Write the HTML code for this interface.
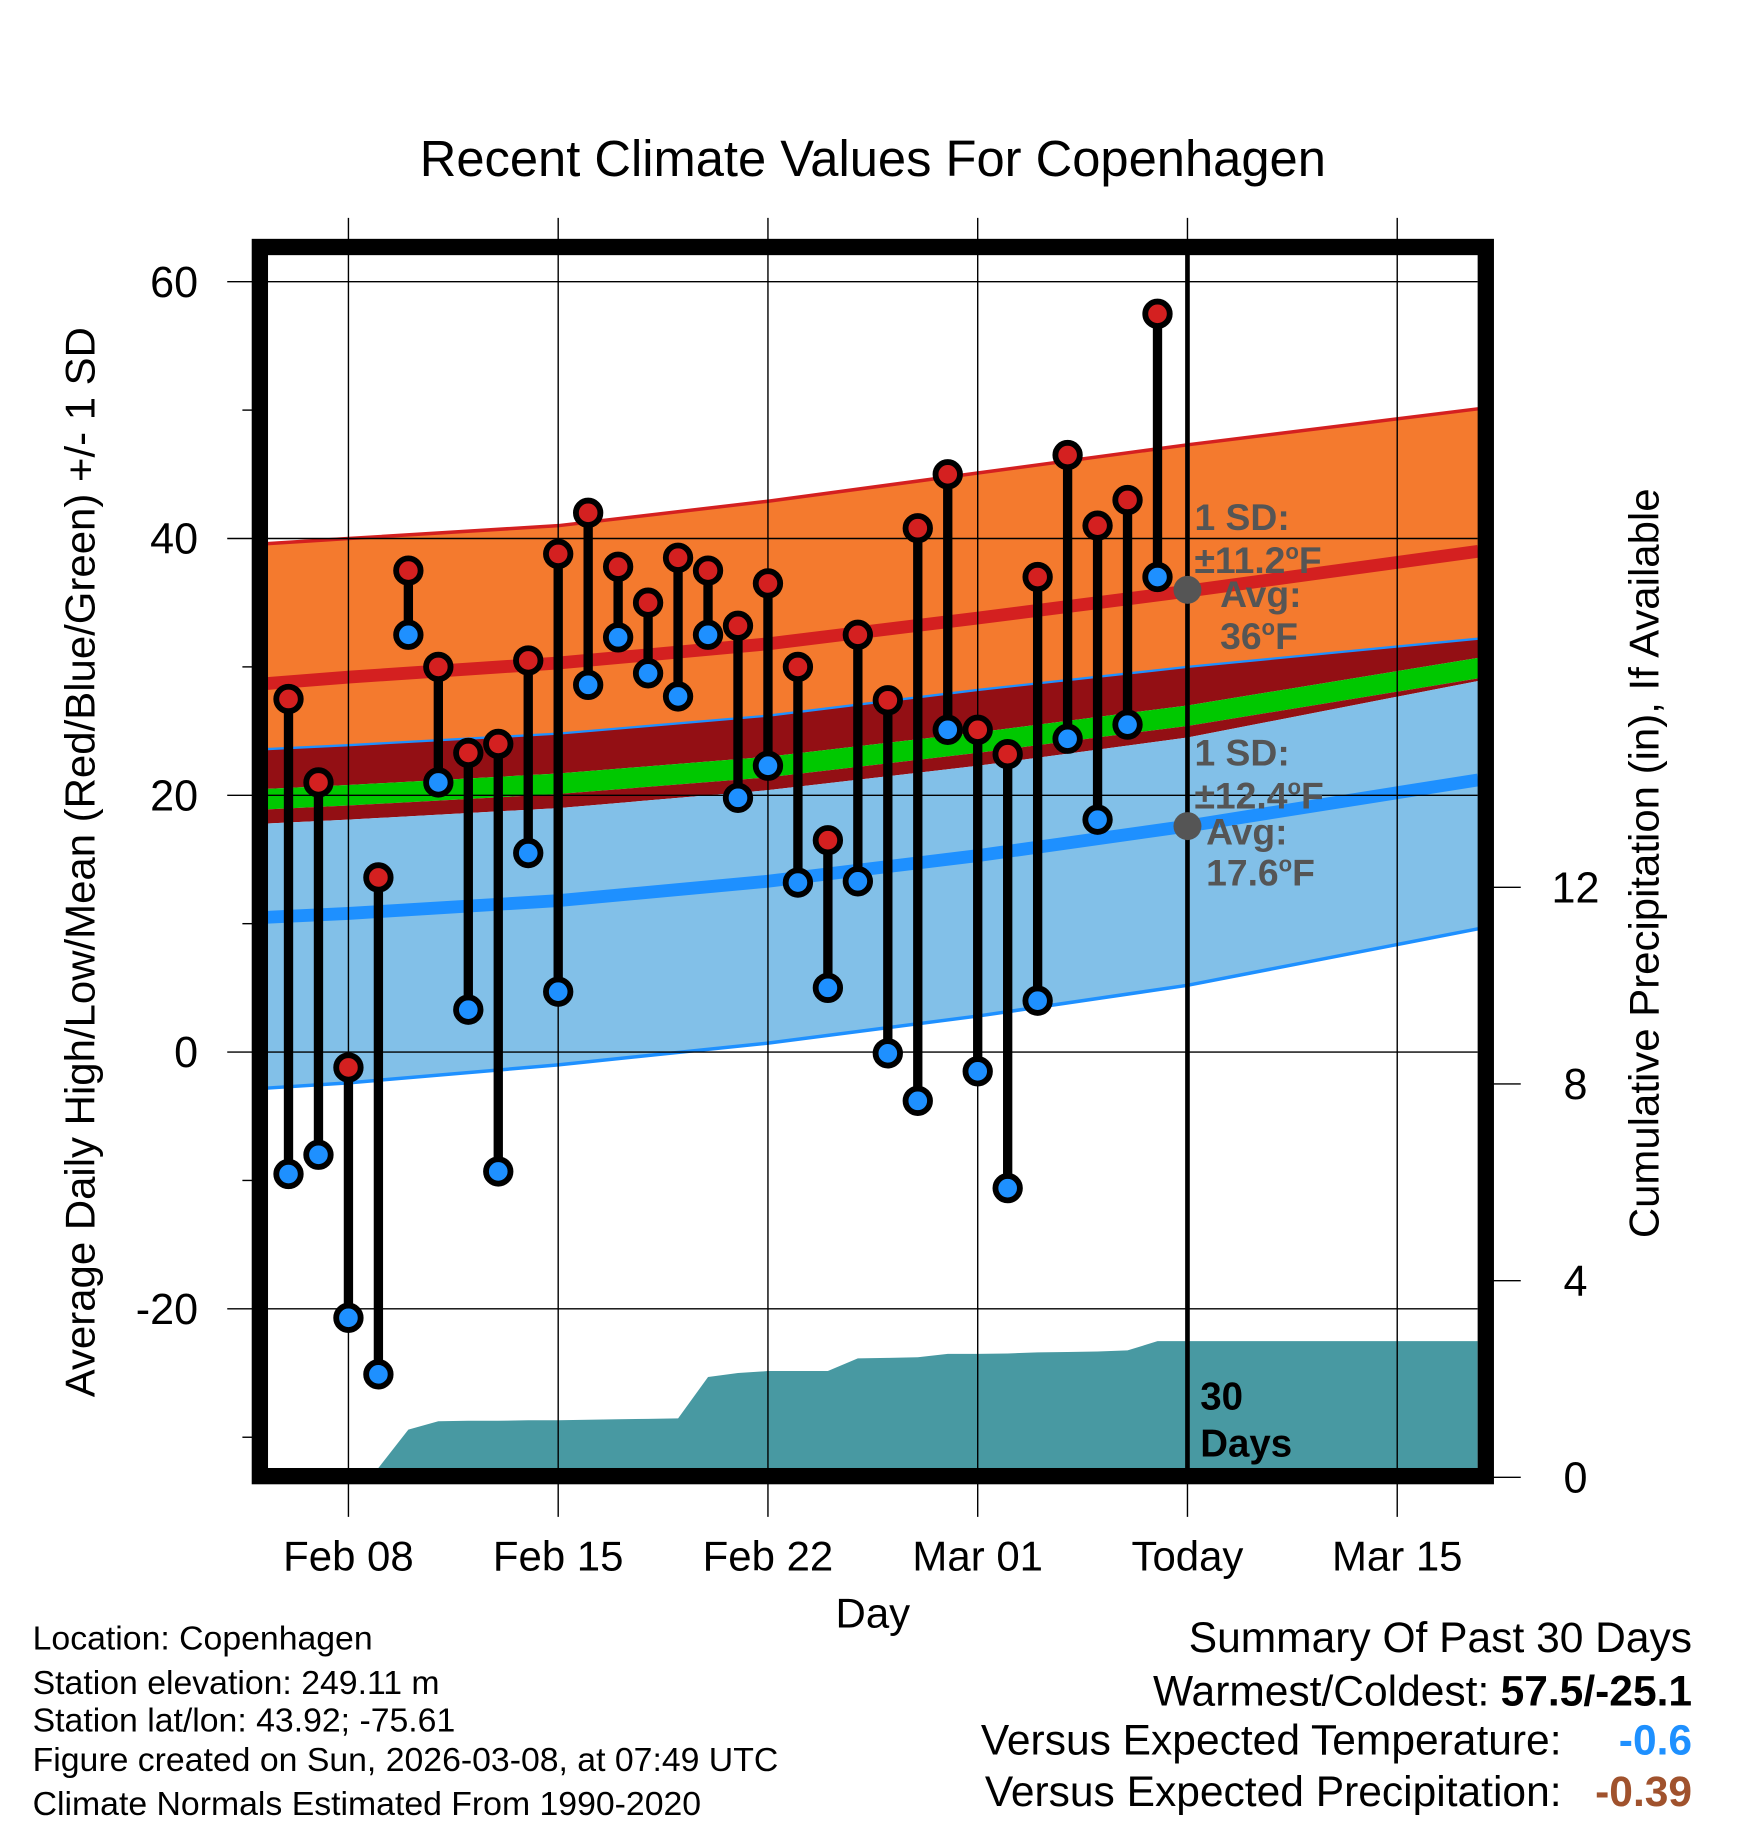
<!DOCTYPE html>
<html><head><meta charset="utf-8"><style>
html,body{margin:0;padding:0;background:#fff}
svg{display:block;font-family:"Liberation Sans",sans-serif}
</style></head><body>
<svg id="chart" width="1748" height="1828" viewBox="0 0 1500 1569" preserveAspectRatio="none" xmlns="http://www.w3.org/2000/svg">
<g id="bands"></g>
<g id="precip"></g>
<g id="grid"></g>
<g id="marks"></g>
<g id="frame"></g>
<text x="749" y="151" font-size="43.5" text-anchor="middle">Recent Climate Values For Copenhagen</text>
<text transform="translate(81,740) rotate(-90)" font-size="36" text-anchor="middle">Average Daily High/Low/Mean (Red/Blue/Green) +/- 1 SD</text>
<text transform="translate(1423,741) rotate(-90)" font-size="36" text-anchor="middle">Cumulative Precipitation (in), If Available</text>
<text x="749" y="1397" font-size="36" text-anchor="middle">Day</text>
<g fill="#555" font-weight="bold" font-size="32">
<text x="1025" y="455">1 SD:</text><text x="1025" y="492">±11.2<tspan font-size="19" dy="-12">o</tspan><tspan dy="12">F</tspan></text>
<text x="1047" y="521">Avg:</text><text x="1047" y="557">36<tspan font-size="19" dy="-12">o</tspan><tspan dy="12">F</tspan></text>
<text x="1025" y="657">1 SD:</text><text x="1025" y="694">±12.4<tspan font-size="19" dy="-12">o</tspan><tspan dy="12">F</tspan></text>
<text x="1035" y="725">Avg:</text><text x="1035" y="760">17.6<tspan font-size="19" dy="-12">o</tspan><tspan dy="12">F</tspan></text>
</g>
<g font-weight="bold" font-size="33"><text x="1030" y="1210">30</text><text x="1030" y="1250">Days</text></g>
<g font-size="29">
<text x="28" y="1416">Location: Copenhagen</text>
<text x="28" y="1454">Station elevation: 249.11 m</text>
<text x="28" y="1486">Station lat/lon: 43.92; -75.61</text>
<text x="28" y="1520">Figure created on Sun, 2026-03-08, at 07:49 UTC</text>
<text x="28" y="1558">Climate Normals Estimated From 1990-2020</text>
</g>
<g font-size="36.5" text-anchor="end">
<text x="1452" y="1418">Summary Of Past 30 Days</text>
<text x="1278" y="1464">Warmest/Coldest:</text>
<text x="1452" y="1464" font-weight="bold">57.5/-25.1</text>
<text x="1340" y="1506">Versus Expected Temperature:</text>
<text x="1452" y="1506" font-weight="bold" fill="#1e90ff">-0.6</text>
<text x="1340" y="1550">Versus Expected Precipitation:</text>
<text x="1452" y="1550" font-weight="bold" fill="#a0522d">-0.39</text>
</g>
</svg>
<script>
// knot days (days from Feb 08) for climate normals
const normDays = [-2.7, 0, 7, 14, 21, 28, 37.7];
const highUpper = [39.6, 40.0, 41.0, 42.9, 45.1, 47.3, 50.1];
const highMean = [28.7, 29.2, 30.3, 31.8, 33.8, 35.9, 39.0];
const highLower = [23.6, 23.9, 24.8, 26.2, 28.2, 30.0, 32.2];
const greenTop = [20.5, 20.8, 21.7, 23.0, 24.9, 27.0, 30.7];
const greenBottom = [18.9, 19.2, 20.1, 21.4, 23.3, 25.4, 29.1];
const lowUpper = [17.8, 18.1, 19.0, 20.4, 22.3, 24.5, 28.9];
const lowMean = [10.5, 10.8, 11.8, 13.3, 15.3, 17.6, 21.2];
const lowLower = [-2.8, -2.4, -1.0, 0.7, 2.8, 5.2, 9.6];
// daily observations, Feb 06 .. Mar 07 (day -2 .. 27)
const obsStartDay = -2;
const highs = [27.5,21,-1.2,13.6,37.5,30,23.3,24,30.5,38.8,42,37.8,35,38.5,37.5,33.2,36.5,30,16.5,32.5,27.4,40.8,45,25.1,23.2,37,46.5,41,43,57.5];
const lows = [-9.5,-8,-20.7,-25.1,32.5,21,3.3,-9.3,15.5,4.7,28.6,32.3,29.5,27.7,32.5,19.8,22.3,13.2,5,13.3,-0.1,-3.8,25.1,-1.5,-10.6,4,24.4,18.1,25.5,37];
const precipCum = [0,0,0,0,0.97,1.14,1.15,1.15,1.16,1.16,1.17,1.18,1.19,1.2,2.04,2.12,2.16,2.16,2.16,2.42,2.43,2.44,2.51,2.51,2.52,2.54,2.55,2.56,2.58,2.77];
const xTickDays = [0,7,14,21,28,35];
const xTickLabels = ["Feb 08","Feb 15","Feb 22","Mar 01","Today","Mar 15"];
const yTicks = [60,40,20,0,-20];
const yMinor = [50,30,10,-10,-30];
const y2Ticks = [0,4,8,12];
const todayDay = 28;
const todayHighAvg = 36, todayLowAvg = 17.6;

const L=230,R=1268,T=218,B=1260;
const x = d => 299 + d*25.714;
const y = v => 903 - v*11.02;
const yp = p => 1268 - p*42.2;
const NS="http://www.w3.org/2000/svg";
function mk(parent,tag,attrs){const e=document.createElementNS(NS,tag);for(const k in attrs)e.setAttribute(k,attrs[k]);parent.appendChild(e);return e;}
const line = arr => normDays.map((d,i)=>x(d).toFixed(1)+','+y(arr[i]).toFixed(1));
function band(top,bot,fill,name){
  const pts=line(top).concat(line(bot).reverse()).join(' ');
  const p=mk(document.getElementById('bands'),'polygon',{points:pts,fill:fill});
  
  
}
function pl(arr,stroke,w,name){
  const p=mk(document.getElementById('bands'),'polyline',{points:line(arr).join(' '),fill:'none',stroke:stroke,'stroke-width':w});
  
  
}
band(highUpper,highLower,'#f47a2e','high-sd-band');
band(highLower,greenTop,'#930f14','high-low-gap-band');
band(greenTop,greenBottom,'#00c800','mean-band');
band(greenBottom,lowUpper,'#930f14','mean-low-gap-band');
band(lowUpper,lowLower,'#82c0e8','low-sd-band');
pl(highUpper,'#d42020',3,'high-upper-line');
pl(highMean,'#d42020',11,'high-mean-line');
pl(highLower,'#1e90ff',2,'high-lower-line');
pl(lowMean,'#1e90ff',11,'low-mean-line');
pl(lowLower,'#1e90ff',3,'low-lower-line');

// precip
const pg=document.getElementById('precip');
let pts=[];
precipCum.forEach((p,i)=>pts.push(x(obsStartDay+i).toFixed(1)+','+Math.min(B,yp(p)).toFixed(1)));
pts.push(R+','+Math.min(B,yp(precipCum[precipCum.length-1])).toFixed(1));
pts.push(R+','+B); pts.push(x(obsStartDay)+','+B);
const pa=mk(pg,'polygon',{points:pts.join(' '),fill:'#4899a2'});



// grid
const g=document.getElementById('grid');
xTickDays.forEach((d,i)=>{
  const l=mk(g,'line',{x1:x(d),x2:x(d),y1:187,y2:1302,stroke:'#000','stroke-width':1.2});
  
  
  const t=mk(document.getElementById('chart'),'text',{x:x(d),y:1348,'font-size':36,'text-anchor':'middle'});
  t.textContent=xTickLabels[i];
  
  
});
yTicks.forEach(v=>{
  const l=mk(g,'line',{x1:195,x2:R,y1:y(v),y2:y(v),stroke:'#000','stroke-width':1.2});
  
  
  const t=mk(document.getElementById('chart'),'text',{x:170,y:y(v)+13,'font-size':37,'text-anchor':'end'});
  t.textContent=v;
  
  
});
yMinor.forEach(v=>{
  const l=mk(g,'line',{x1:208,x2:220,y1:y(v),y2:y(v),stroke:'#000','stroke-width':1.2});
  
  
});
y2Ticks.forEach(p=>{
  const l=mk(g,'line',{x1:1280,x2:1305,y1:yp(p),y2:yp(p),stroke:'#000','stroke-width':1.2});
  
  
  const t=mk(document.getElementById('chart'),'text',{x:1352,y:yp(p)+13,'font-size':37,'text-anchor':'middle'});
  t.textContent=p;
  
  
});

// marks
const m=document.getElementById('marks');
const tl=mk(m,'line',{x1:x(todayDay),x2:x(todayDay),y1:T,y2:B,stroke:'#000','stroke-width':4});


[todayHighAvg,todayLowAvg].forEach(v=>{
  const c=mk(m,'circle',{cx:x(todayDay),cy:y(v),r:12,fill:'#555'});
  
  
});
highs.forEach((h,i)=>{
  const d=obsStartDay+i, lo=lows[i];
  const s=mk(m,'line',{x1:x(d),x2:x(d),y1:y(h),y2:y(lo),stroke:'#000','stroke-width':8});
  
  
  const c1=mk(m,'circle',{cx:x(d),cy:y(h),r:10.5,fill:'#d42020',stroke:'#000','stroke-width':5});
  
  
  const c2=mk(m,'circle',{cx:x(d),cy:y(lo),r:10.5,fill:'#1e90ff',stroke:'#000','stroke-width':5});
  
  
});
const fr=mk(document.getElementById('frame'),'rect',{x:223,y:212,width:1052,height:1055,fill:'none',stroke:'#000','stroke-width':14});


</script>
</body></html>
